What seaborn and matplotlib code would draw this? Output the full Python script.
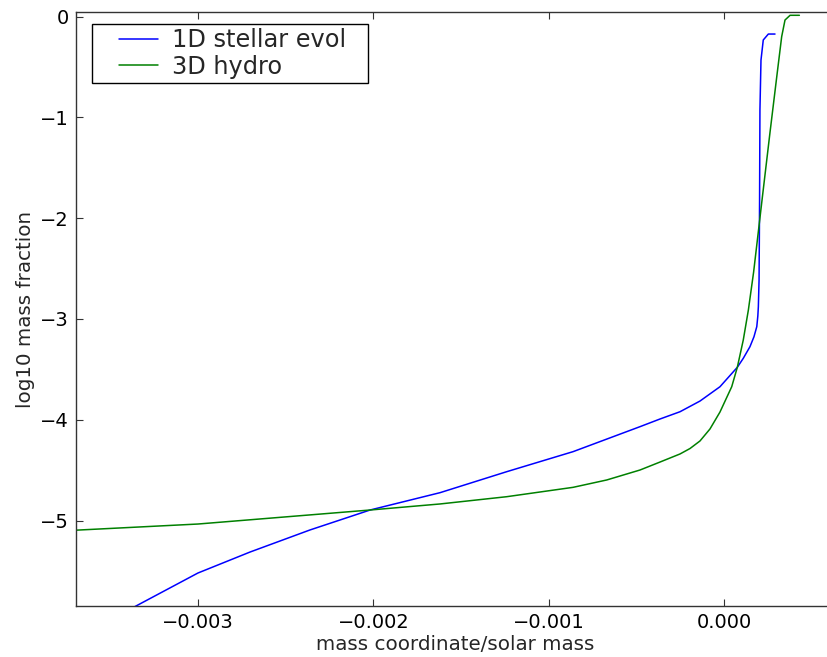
import numpy as np
import pandas as pd
import matplotlib
matplotlib.use("Agg")
import matplotlib.pyplot as plt
from matplotlib.lines import Line2D
from matplotlib.legend_handler import HandlerLine2D
import seaborn as sns

# ---- data ----
series_names = ["1D stellar evol", "3D hydro"]

blue_x = [-3.503e-3, -3.354e-3, -3.001e-3, -2.704e-3, -2.362e-3, -2.019e-3, -1.620e-3,
          -1.240e-3, -0.861e-3, -0.479e-3, -0.365e-3, -0.251e-3, -0.137e-3, -0.023e-3,
          0.076e-3, 0.110e-3, 0.148e-3, 0.171e-3, 0.187e-3, 0.193e-3, 0.196e-3,
          0.200e-3, 0.203e-3, 0.205e-3, 0.211e-3, 0.224e-3, 0.253e-3, 0.291e-3]
blue_y = [-5.987, -5.848, -5.521, -5.313, -5.094, -4.896, -4.724,
          -4.516, -4.317, -4.069, -3.993, -3.921, -3.815, -3.673,
          -3.480, -3.391, -3.276, -3.177, -3.077, -2.971, -2.879,
          -2.614, -1.820, -0.928, -0.432, -0.233, -0.174, -0.174]

green_x = [-3.788e-3, -3.001e-3, -2.019e-3, -1.620e-3, -1.240e-3, -0.861e-3, -0.669e-3,
           -0.479e-3, -0.365e-3, -0.251e-3, -0.194e-3, -0.137e-3, -0.080e-3, -0.023e-3,
           0.044e-3, 0.076e-3, 0.110e-3, 0.139e-3, 0.169e-3, 0.217e-3, 0.262e-3,
           0.301e-3, 0.329e-3, 0.348e-3, 0.377e-3, 0.430e-3]
green_y = [-5.104, -5.035, -4.896, -4.836, -4.764, -4.671, -4.598,
           -4.499, -4.420, -4.340, -4.286, -4.211, -4.092, -3.924,
           -3.673, -3.480, -3.209, -2.912, -2.535, -1.820, -1.156,
           -0.597, -0.200, -0.035, 0.012, 0.012]

x_ticks = [-0.003, -0.002, -0.001, 0.000]
x_tick_labels = ["\u22120.003", "\u22120.002", "\u22120.001", "0.000"]
y_ticks = [0, -1, -2, -3, -4, -5]
y_tick_labels = ["0", "\u22121", "\u22122", "\u22123", "\u22124", "\u22125"]

# ---- build table ----
df = pd.concat([
    pd.DataFrame({"x": blue_x, "y": blue_y, "series": series_names[0]}),
    pd.DataFrame({"x": green_x, "y": green_y, "series": series_names[1]}),
], ignore_index=True)

sns.set_style("ticks")
plt.rcParams["font.family"] = ["DejaVu Sans"]

W, H = 828, 657
fig = plt.figure(figsize=(W / 100, H / 100), dpi=100)
ax = fig.add_axes([76 / W, (H - 606) / H, (834 - 76) / W, (606 - 12) / H])

sns.lineplot(data=df, x="x", y="y", hue="series", sort=False, estimator=None,
             palette={series_names[0]: (0, 0, 1), series_names[1]: (0, 0.5, 0)},
             linewidth=1.1, ax=ax)

ax.set_xlim((76 - 724) / 175300, (834 - 724) / 175300)
ax.set_ylim((16.5 - 606) / 100.8, (16.5 - 12) / 100.8)

ax.set_xticks(x_ticks)
ax.set_xticklabels(x_tick_labels)
ax.set_yticks(y_ticks)
ax.set_yticklabels(y_tick_labels)
ax.tick_params(direction="in", length=5, width=0.8, color="#333333",
               top=True, right=False, labelsize=14, labelcolor="black", pad=5)

for name, s in ax.spines.items():
    s.set_visible(name != "right")
    s.set_linewidth(1.0)
    s.set_color("#333333")

ax.set_xlabel("mass coordinate/solar mass", fontsize=14.3, labelpad=2)
ax.set_ylabel("log10 mass fraction", fontsize=14.3, labelpad=4)

fs_pt = 17.3
handles, labels = ax.get_legend_handles_labels()
leg = ax.legend(handles, labels, loc="upper left",
                bbox_to_anchor=(92 / W, (H - 83) / H, (368 - 92) / W, (83 - 24) / H),
                bbox_transform=fig.transFigure, mode="expand",
                fontsize=fs_pt, frameon=True, fancybox=False, borderaxespad=0,
                borderpad=0.17, labelspacing=0.11,
                handlelength=3.53, handletextpad=-0.37,
                handler_map={Line2D: HandlerLine2D(marker_pad=0.954, numpoints=2)})
leg.get_frame().set_edgecolor("black")
leg.get_frame().set_linewidth(1.0)
leg.get_frame().set_alpha(1)

fig.savefig("out.png", dpi=100)
